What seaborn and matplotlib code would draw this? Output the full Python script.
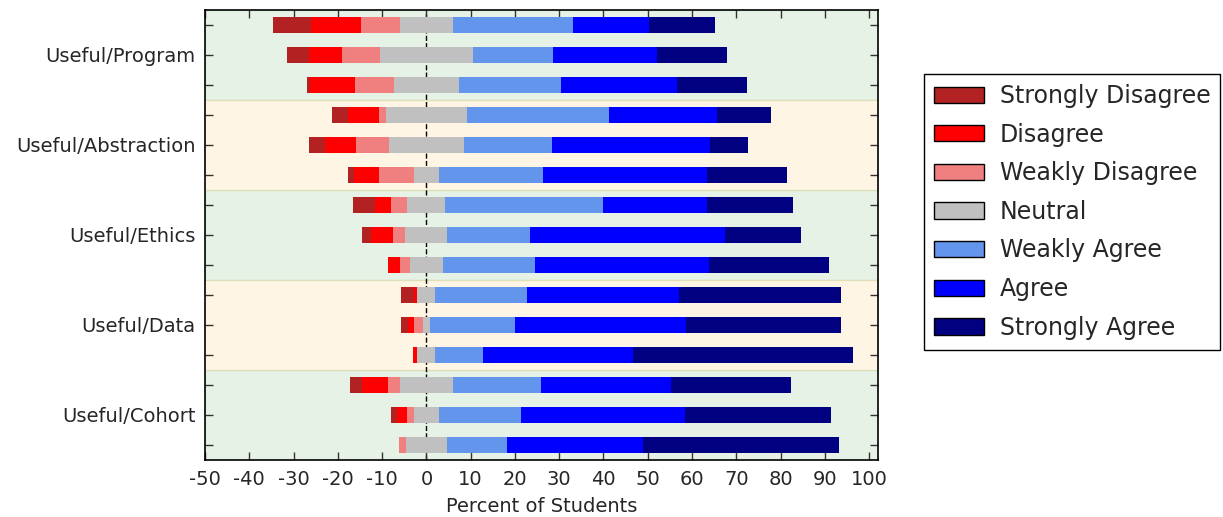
import numpy as np
import pandas as pd
import matplotlib
matplotlib.use("Agg")
import matplotlib.pyplot as plt
from matplotlib.patches import Patch
import seaborn as sns

# Survey questions (one group of three cohorts each)
questions = ["Useful/Program", "Useful/Abstraction", "Useful/Ethics", "Useful/Data", "Useful/Cohort"]
cohorts_per_question = 3

# Percent of students per response, one value per bar (top to bottom)
strongly_disagree = [8.6, 5.0, 0.7, 3.6, 3.6, 1.4, 5.1, 2.1, 0.0, 2.9, 1.5, 0.0, 2.6, 1.3, 0.0]
disagree          = [11.4, 7.3, 10.2, 7.1, 7.2, 5.7, 3.5, 5.1, 2.7, 0.8, 1.4, 0.9, 5.9, 2.3, 0.0]
weakly_disagree   = [8.7, 8.6, 8.7, 1.5, 7.3, 7.8, 3.7, 2.7, 2.2, 0.0, 2.1, 0.0, 2.7, 1.4, 1.4]
neutral           = [12.0, 21.1, 14.8, 18.4, 17.0, 5.8, 8.6, 9.5, 7.5, 4.1, 1.5, 4.1, 12.1, 5.8, 9.4]
weakly_agree      = [27.1, 18.1, 23.0, 32.1, 19.8, 23.5, 35.6, 18.6, 20.8, 20.6, 19.3, 10.7, 19.9, 18.4, 13.5]
agree             = [17.2, 23.5, 26.2, 24.3, 35.7, 37.0, 23.5, 44.2, 39.3, 34.5, 38.5, 34.0, 29.3, 37.2, 30.8]
strongly_agree    = [14.8, 15.8, 15.8, 12.2, 8.7, 18.0, 19.4, 17.0, 27.0, 36.4, 35.1, 49.5, 27.1, 32.8, 44.2]

response_labels = ["Strongly Disagree", "Disagree", "Weakly Disagree", "Neutral",
                   "Weakly Agree", "Agree", "Strongly Agree"]
response_colors = ["firebrick", "red", "lightcoral", "silver",
                   "cornflowerblue", "blue", "navy"]

x_ticks = list(range(-50, 101, 10))

sns.set_style("white")
plt.rcParams["font.family"] = ["DejaVu Sans"]

n_rows = len(questions) * cohorts_per_question
row_ids = [f"r{i:02d}" for i in range(n_rows)]

sd = np.array(strongly_disagree)
d = np.array(disagree)
wd = np.array(weakly_disagree)
n = np.array(neutral)
wa = np.array(weakly_agree)
a = np.array(agree)
sa = np.array(strongly_agree)

# Cumulative bar ends, neutral centred on zero; drawn widest first so
# each shorter layer paints over the previous one.
left_layers = [
    (-(n / 2 + wd + d + sd), response_colors[0]),
    (-(n / 2 + wd + d), response_colors[1]),
    (-(n / 2 + wd), response_colors[2]),
    (-(n / 2), response_colors[3]),
]
right_layers = [
    (n / 2 + wa + a + sa, response_colors[6]),
    (n / 2 + wa + a, response_colors[5]),
    (n / 2 + wa, response_colors[4]),
    (n / 2, response_colors[3]),
]

fig = plt.figure(figsize=(12.23, 5.17), dpi=100)
ax = fig.add_axes([205 / 1223, 57 / 517, 673 / 1223, 450 / 517])

# Alternating background bands, one per question
band_colors = ["green", "orange"]
for g in range(len(questions)):
    ax.axhspan(g * cohorts_per_question - 0.5, (g + 1) * cohorts_per_question - 0.5,
               color=band_colors[g % 2], alpha=0.1, lw=1, zorder=0)

ax.axvline(0, color="black", ls="--", lw=1, zorder=0.5)

for values, color in left_layers + right_layers:
    df = pd.DataFrame({"row": row_ids, "pct": values})
    sns.barplot(data=df, x="pct", y="row", order=row_ids, orient="h",
                color=color, saturation=1, width=0.55, errorbar=None,
                linewidth=0, ax=ax, zorder=2)

ax.set_xlim(-50, 102)
ax.set_ylim(n_rows - 0.5, -0.5)
ax.set_xticks(x_ticks)
ax.set_xticklabels([str(t) for t in x_ticks], fontsize=14)
ax.set_yticks(range(n_rows))
ylabels = [""] * n_rows
for g, q in enumerate(questions):
    ylabels[g * cohorts_per_question + 1] = q
ax.set_yticklabels(ylabels, fontsize=14)
ax.set_ylabel("")
ax.set_xlabel("Percent of Students", fontsize=14, labelpad=6)

ax.tick_params(axis="both", direction="in", length=6, width=1, color="#333333",
               top=True, right=True, bottom=True, left=True, pad=7)
for spine in ax.spines.values():
    spine.set_visible(True)
    spine.set_color("black")
    spine.set_linewidth(1.2)

handles = [Patch(facecolor=c, edgecolor="black", lw=1) for c in response_colors]
fig.legend(handles, response_labels, loc="upper left",
           bbox_to_anchor=(924 / 1223, 1 - 74 / 517), fontsize=17,
           frameon=True, fancybox=False, edgecolor="black", framealpha=1,
           handlelength=2.1, handleheight=0.68, handletextpad=0.68,
           labelspacing=0.62, borderpad=0.42, borderaxespad=0)

fig.savefig("out.png", dpi=100)
